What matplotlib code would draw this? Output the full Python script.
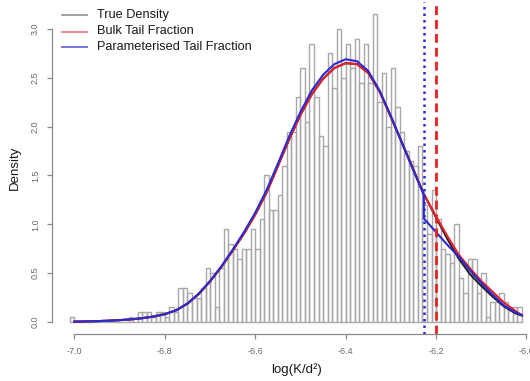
import numpy as np
import matplotlib
matplotlib.use("Agg")
import matplotlib.pyplot as plt
from matplotlib.lines import Line2D

plt.rcParams['font.family'] = ['Liberation Sans', 'DejaVu Sans']

# ---------------- data ----------------
bin_width = 0.01
bin_start = -7.01
densities = [
    0.05, 0, 0, 0, 0, 0, 0, 0, 0, 0,
    0, 0, 0, 0.05, 0, 0.1, 0.1, 0.1, 0.05, 0.1,
    0.1, 0.05, 0.15, 0.1, 0.35, 0.35, 0.3, 0.25, 0.25, 0.35,
    0.55, 0.5, 0.15, 0.55, 0.95, 0.8, 0.75, 0.65, 0.75, 0.75,
    0.95, 0.75, 1.05, 1.5, 1.15, 1.15, 1.3, 1.6, 1.95, 1.95,
    2.3, 2.6, 2.05, 2.85, 2.3, 1.9, 1.8, 2.75, 2.4, 3.0,
    2.5, 2.85, 2.6, 2.9, 2.45, 2.85, 2.45, 3.15, 2.25, 2.55,
    2.0, 2.6, 2.2, 1.95, 1.75, 1.65, 1.6, 1.8, 1.2, 0.9,
    1.35, 1.05, 0.75, 0.7, 0.6, 1.0, 0.45, 0.3, 0.65, 0.65,
    0.3, 0.5, 0.05, 0.2, 0.2, 0.3, 0.2, 0.15, 0.15, 0.15,
]

bulk_x = [-7.000, -6.975, -6.950, -6.925, -6.900, -6.875, -6.850, -6.825,
          -6.800, -6.775, -6.750, -6.725, -6.700, -6.675, -6.650, -6.625,
          -6.600, -6.575, -6.550, -6.525, -6.500, -6.475, -6.450, -6.425,
          -6.400, -6.375, -6.350, -6.325, -6.300, -6.275, -6.250, -6.227]
blue_bulk = [0.004, 0.006, 0.009, 0.013, 0.019, 0.027, 0.039, 0.056,
             0.080, 0.120, 0.190, 0.290, 0.420, 0.570, 0.740, 0.920,
             1.120, 1.350, 1.620, 1.900, 2.150, 2.370, 2.530, 2.640,
             2.690, 2.670, 2.570, 2.370, 2.110, 1.830, 1.550, 1.300]
red_bulk = [0.004, 0.006, 0.009, 0.013, 0.019, 0.027, 0.039, 0.056,
            0.080, 0.120, 0.188, 0.287, 0.415, 0.563, 0.730, 0.905,
            1.100, 1.325, 1.595, 1.870, 2.120, 2.330, 2.490, 2.600,
            2.650, 2.640, 2.550, 2.360, 2.100, 1.830, 1.560, 1.310]

tail_x = [-6.227, -6.200, -6.175, -6.150, -6.125, -6.100, -6.075, -6.050, -6.025, -6.010]
blue_tail = [1.06, 0.92, 0.79, 0.67, 0.53, 0.40, 0.28, 0.17, 0.10, 0.07]
red_tail = [1.31, 1.08, 0.88, 0.69, 0.55, 0.42, 0.31, 0.20, 0.115, 0.07]
true_tail = [1.31, 1.07, 0.85, 0.65, 0.49, 0.37, 0.26, 0.16, 0.09, 0.065]

param_threshold = -6.227
bulk_threshold = -6.200

legend_labels = ["True Density", "Bulk Tail Fraction", "Parameterised Tail Fraction"]
y_ticks = [0.0, 0.5, 1.0, 1.5, 2.0, 2.5, 3.0]
x_ticks = [-7.0, -6.8, -6.6, -6.4, -6.2, -6.0]

# ---------------- figure ----------------
W, H = 530, 381
fig = plt.figure(figsize=(W / 100, H / 100), dpi=100)
ax = fig.add_axes([51.7 / W, 1 - 334.3 / H, (540 - 51.7) / W, (334.3 - 2) / H])

lefts = bin_start + bin_width * np.arange(len(densities))
ax.bar(lefts, densities, width=bin_width, align='edge', fill=False,
       edgecolor='#a8a8a8', linewidth=1.0)

true_x = bulk_x + tail_x[1:]
true_y = red_bulk + true_tail[1:]
red_x = bulk_x + tail_x[1:]
red_y = red_bulk + red_tail[1:]
blue_x = bulk_x + tail_x
blue_y = blue_bulk + blue_tail

ax.plot(true_x, true_y, color='#222222', lw=1.5)
ax.plot(red_x, red_y, color='#e8202a', lw=1.5)
ax.plot(blue_x, blue_y, color='#2a2ad0', lw=1.5)

ax.axvline(param_threshold, color='#2a2ad0', lw=1.8, ls=(0, (1, 1.6)))
ax.axvline(bulk_threshold, color='#e82020', lw=2.0, ls=(0, (3.2, 1.8)))

ax.set_xlim(-7.0504, -5.97)
ax.set_ylim(-0.126, 3.276)

for s in ['top', 'right']:
    ax.spines[s].set_visible(False)
ax.spines['left'].set_bounds(0, 3)
ax.spines['bottom'].set_bounds(-7.0, -6.0)
for s in ['left', 'bottom']:
    ax.spines[s].set_color('#8a8a8a')
    ax.spines[s].set_linewidth(0.9)

ax.set_yticks(y_ticks)
ax.set_yticklabels([f"{v:.1f}" for v in y_ticks], rotation=90, va='center')
ax.set_xticks(x_ticks)
ax.set_xticklabels([f"{v:.1f}" for v in x_ticks])
ax.tick_params(axis='both', colors='#8a8a8a', length=3.5, width=0.9,
               labelsize=6.5, labelcolor='#6a6a6a')
ax.tick_params(axis='y', pad=5)
ax.tick_params(axis='x', pad=6)

fig.text(15 / W, 1 - 168 / H, "Density", rotation=90, ha='center', va='center',
         fontsize=9.5, color='#1a1a1a')
fig.text(296 / W, 1 - 370 / H, "log(K/d²)", ha='center', va='center',
         fontsize=9.5, color='#1a1a1a')

leg_colors = ['#9a9a9a', '#f07c8c', '#6a6ae0']
rows = [15, 31.5, 47]
for lab, c, yy in zip(legend_labels, leg_colors, rows):
    fig.add_artist(Line2D([62 / W, 87 / W], [1 - yy / H, 1 - yy / H],
                          color=c, lw=1.3, transform=fig.transFigure))
    fig.text(97 / W, 1 - yy / H, lab, ha='left', va='center', fontsize=9.2,
             color='#1a1a1a')

fig.savefig("out.png", dpi=100)
